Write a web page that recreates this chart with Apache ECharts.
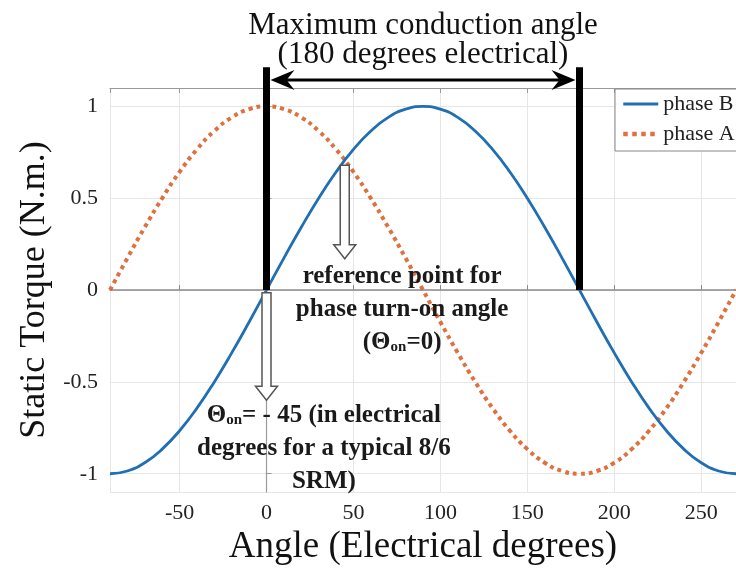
<!DOCTYPE html>
<html><head><meta charset="utf-8">
<script src="https://cdn.jsdelivr.net/npm/echarts@6/dist/echarts.min.js"></script>
<style>html,body{margin:0;padding:0;background:#fff}#c{width:736px;height:571px}</style>
</head><body><div id="c"></div>
<script>
// ---- data ----
const angles = [-90,-80,-70,-60,-50,-40,-30,-20,-10,0,10,20,30,40,50,60,70,80,90,100,110,120,130,140,150,160,170,180,190,200,210,220,230,240,250,260,270];
const phaseB = [-1,-0.985,-0.94,-0.866,-0.766,-0.643,-0.5,-0.342,-0.174,0,0.174,0.342,0.5,0.643,0.766,0.866,0.94,0.985,1,0.985,0.94,0.866,0.766,0.643,0.5,0.342,0.174,0,-0.174,-0.342,-0.5,-0.643,-0.766,-0.866,-0.94,-0.985,-1];
const phaseA = [0,0.174,0.342,0.5,0.643,0.766,0.866,0.94,0.985,1,0.985,0.94,0.866,0.766,0.643,0.5,0.342,0.174,0,-0.174,-0.342,-0.5,-0.643,-0.766,-0.866,-0.94,-0.985,-1,-0.985,-0.94,-0.866,-0.766,-0.643,-0.5,-0.342,-0.174,0];
const xTickLabels = ['-50','0','50','100','150','200','250'];
const yTickLabels = ['-1','-0.5','0','0.5','1'];
// annotation anchors (data coordinates)
const conductionEnds = [0, 180];
const barTopY = 1.213;
const spanArrowY = 1.143;
const refArrow = [45, 0.68, 0.17];
const onArrow = [0, -0.015, -0.6];
const titleLines = ['Maximum conduction angle', '(180 degrees electrical)'];

const FONT = "'Liberation Serif','Times New Roman',serif";
const chart = echarts.init(document.getElementById('c'));
const zip = (xs, ys) => xs.map((x, i) => [x, ys[i]]);

chart.setOption({
  backgroundColor: '#fff',
  animation: false,
  grid: { left: 110, right: -7, top: 88, bottom: 76, containLabel: false },
  legend: {
    data: [{ name: 'phase B', lineStyle: { width: 3.2 } }, { name: 'phase A', lineStyle: { width: 4.5 } }],
    orient: 'vertical', left: 615, top: 89,
    padding: [4, 20, 6, 6], itemGap: 8, itemWidth: 35, itemHeight: 20,
    backgroundColor: '#fff', borderColor: '#888', borderWidth: 1, borderRadius: 0,
    itemStyle: { opacity: 0 },
    textStyle: { fontFamily: FONT, fontSize: 22, color: '#222' }
  },
  xAxis: [{
    type: 'value', min: -90, max: 270, splitNumber: 7,
    name: 'Angle (Electrical degrees)', nameLocation: 'middle', nameGap: 35,
    nameTextStyle: { fontFamily: FONT, fontSize: 37, color: '#111' },
    axisLine: { show: true, lineStyle: { color: '#8a8a8a', width: 1.5 } },
    axisTick: { show: true, inside: true, length: 5, lineStyle: { color: '#8a8a8a' } },
    axisLabel: { showMinLabel: false, showMaxLabel: false, margin: 10, fontFamily: FONT, fontSize: 22, color: '#222',
      formatter: v => xTickLabels.includes(String(v)) ? String(v) : '' },
    splitLine: { show: true, lineStyle: { color: '#e6e6e6', width: 1 } }
  }, {
    type: 'value', position: 'top', min: -90, max: 270, splitNumber: 7,
    axisLine: { show: true, lineStyle: { color: '#9a9a9a', width: 1.2 } },
    axisTick: { show: true, inside: true, length: 5, lineStyle: { color: '#9a9a9a' } },
    axisLabel: { show: false }, splitLine: { show: false }
  }],
  yAxis: {
    type: 'value', min: -1.1, max: 1.1, splitNumber: 5,
    name: 'Static Torque (N.m.)', nameLocation: 'middle', nameGap: 56, nameRotate: 90,
    nameTextStyle: { fontFamily: FONT, fontSize: 36, color: '#111' },
    axisLine: { show: true, lineStyle: { color: '#9a9a9a', width: 1.2 } },
    axisTick: { show: true, inside: true, length: 5, lineStyle: { color: '#9a9a9a' } },
    axisLabel: { showMinLabel: false, showMaxLabel: false, margin: 12, fontFamily: FONT, fontSize: 22, color: '#222',
      formatter: v => yTickLabels.includes(String(v)) ? String(v) : '' },
    splitLine: { show: true, lineStyle: { color: '#e6e6e6', width: 1 } }
  },
  series: [{
    name: 'phase A', type: 'line', data: zip(angles, phaseA), smooth: true, symbol: 'none', showSymbol: false,
    lineStyle: { color: '#d9622b', width: 4, type: 'dotted', opacity: 0.9 }, itemStyle: { color: '#d9622b' }
  }, {
    name: 'phase B', type: 'line', data: zip(angles, phaseB), smooth: true, symbol: 'none', showSymbol: false,
    lineStyle: { color: '#1f6fb2', width: 2.8 }, itemStyle: { color: '#1f6fb2' }
  }]
});

const P = (x, y) => chart.convertToPixel({ xAxisIndex: 0, yAxisIndex: 0 }, [x, y]);
const g = [];
// thick black bars
conductionEnds.forEach(x => {
  const a = P(x, 0), b = P(x, barTopY);
  g.push({ type: 'line', z: 100, shape: { x1: a[0], y1: a[1], x2: b[0], y2: b[1] }, style: { stroke: '#000', lineWidth: 7 } });
});
// double-headed span arrow
const L = P(conductionEnds[0], spanArrowY), R = P(conductionEnds[1], spanArrowY);
const lx = L[0] + 4, rx = R[0] - 4, ay = L[1];
g.push({ type: 'line', z: 100, shape: { x1: lx + 10, y1: ay, x2: rx - 10, y2: ay }, style: { stroke: '#000', lineWidth: 3 } });
g.push({ type: 'polygon', z: 100, shape: { points: [[lx, ay], [lx + 24, ay - 10], [lx + 16, ay], [lx + 24, ay + 10]] }, style: { fill: '#000' } });
g.push({ type: 'polygon', z: 100, shape: { points: [[rx, ay], [rx - 24, ay - 10], [rx - 16, ay], [rx - 24, ay + 10]] }, style: { fill: '#000' } });
// hollow arrows
function hollow(spec) {
  const t = P(spec[0], spec[1]), b = P(spec[0], spec[2]);
  const cx = t[0], y0 = t[1], y1 = b[1], sw = 4.5, hw = 11, hl = 14;
  return { type: 'polygon', z: 100, shape: { points: [[cx - sw, y0], [cx + sw, y0], [cx + sw, y1 - hl], [cx + hw, y1 - hl], [cx, y1], [cx - hw, y1 - hl], [cx - sw, y1 - hl]] },
    style: { fill: '#fff', stroke: '#555', lineWidth: 1.5 } };
}
g.push(hollow(refArrow));
g.push(hollow(onArrow));
// title text
const t1 = P(90, 1.44), t2 = P(90, 1.28);
g.push({ type: 'text', z: 101, x: t1[0], y: t1[1], style: { text: titleLines[0], font: '31px ' + FONT, fill: '#111', align: 'center', verticalAlign: 'middle' } });
g.push({ type: 'text', z: 101, x: t2[0], y: t2[1], style: { text: titleLines[1], font: '31px ' + FONT, fill: '#111', align: 'center', verticalAlign: 'middle' } });
// bold annotations
const rich = {
  a: { fontFamily: FONT, fontSize: 25, fontWeight: 'bold', fill: '#1a1a1a', lineHeight: 33 },
  s: { fontFamily: FONT, fontSize: 15, fontWeight: 'bold', fill: '#1a1a1a', lineHeight: 33, padding: [10, 0, 0, 0] }
};
const r1 = P(78, -0.105);
g.push({ type: 'text', z: 101, x: r1[0], y: r1[1], style: {
  text: '{a|reference point for}\n{a|phase turn-on angle}\n{a|(Θ}{s|on}{a|=0)}', rich, align: 'center', verticalAlign: 'middle' } });
const r2 = P(33, -0.862);
g.push({ type: 'text', z: 101, x: r2[0], y: r2[1], style: {
  text: '{a|Θ}{s|on}{a|= - 45 (in electrical}\n{a|degrees for a typical 8/6}\n{a|SRM)}', rich, align: 'center', verticalAlign: 'middle' } });
chart.setOption({ graphic: g });
</script></body></html>
